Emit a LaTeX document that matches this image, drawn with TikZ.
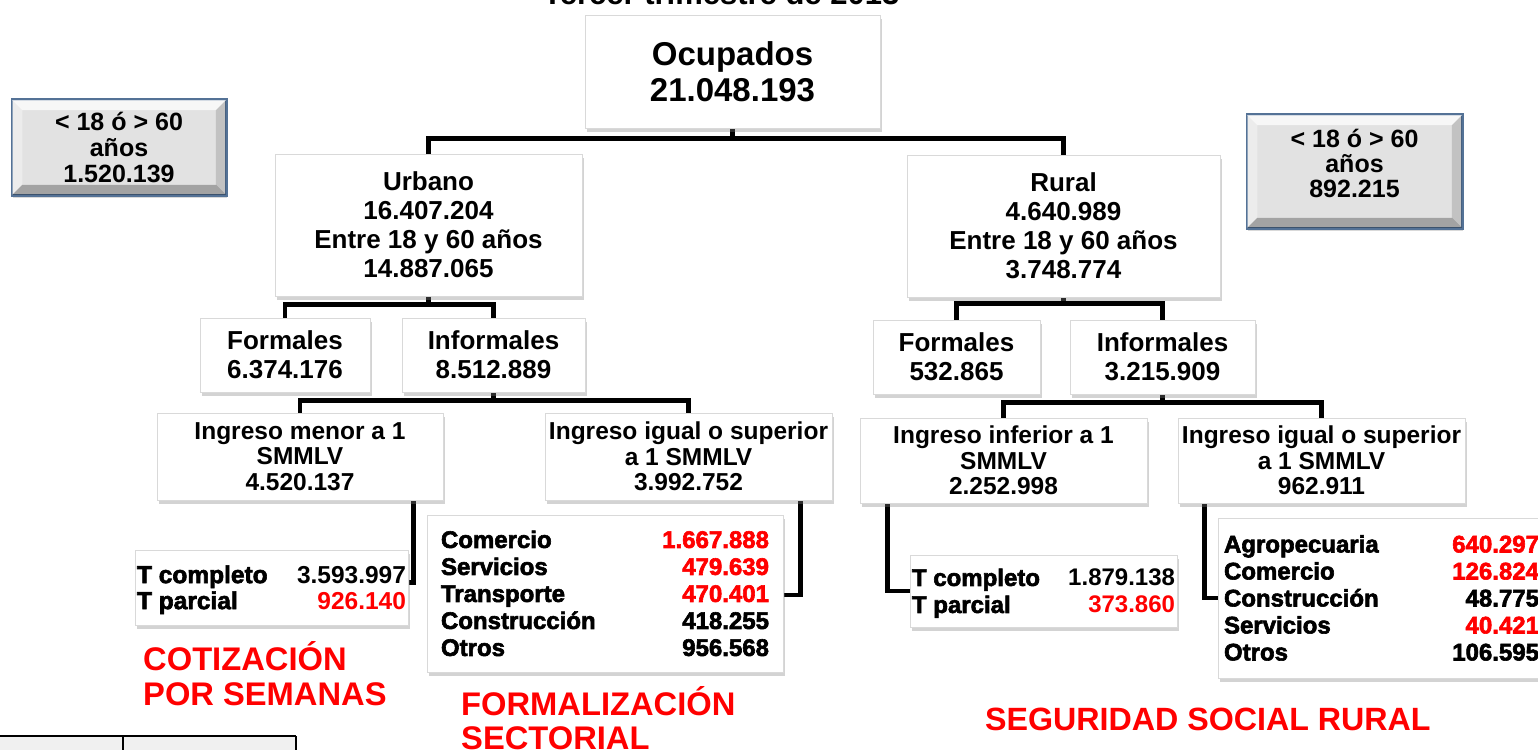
\documentclass[tikz,border=0pt]{standalone}
\usepackage{fontspec}
\setmainfont{Liberation Sans}
\newfontfamily\heavyfont[FakeBold=2.5]{Liberation Sans Bold}
\usetikzlibrary{shadows,calc}
\pgfdeclarelayer{bg}
\pgfsetlayers{bg,main}
\definecolor{rd}{RGB}{255,0,0}
\definecolor{gboxfill}{RGB}{226,226,226}
\definecolor{gborder}{RGB}{84,114,150}
\newcommand{\fsz}[2]{\fontsize{#1}{#2}\selectfont}
\newcommand{\toprule}{\rule{0pt}{25pt}}
\begin{document}
\begin{tikzpicture}[x=1pt,y=-1pt,
  wbox/.style={draw=gray!30, line width=0.6pt, fill=white,
    drop shadow={opacity=0.35, shadow xshift=1.5pt, shadow yshift=-4pt, fill=gray},
    inner sep=0pt, align=center},
  gboxstyle/.style={draw=gborder, line width=1.5pt, fill=gboxfill,
    drop shadow={opacity=0.3, shadow xshift=1pt, shadow yshift=-3pt, fill=gray},
    inner sep=0pt},
  gtext/.style={align=center, inner sep=0pt, font=\bfseries\fsz{25}{26}},
  conn/.style={line width=4.5pt, black},
  redlab/.style={text=rd, font=\bfseries\fsz{32.7}{35}, anchor=base west, inner sep=0pt},
  lvone/.style={font=\bfseries\fsz{33}{36}},
  lvtwo/.style={font=\bfseries\fsz{26}{29}},
  lving/.style={font=\bfseries\fsz{24.5}{25.5}},
  tabfont/.style={font=\bfseries\fsz{24}{27}}
]
\useasboundingbox (0,0) rectangle (1538,749);
\clip (0,0) rectangle (1538,749);

% title (cut off at the top)
\node[font=\bfseries\fsz{31}{34}, anchor=base west, inner sep=0pt] (title) at (543,5) {Tercer trimestre de 2013};

% main tree
\node[wbox, lvone, minimum width=295pt, minimum height=113pt] (ocup) at (732.5,71.5) {Ocupados\\21.048.193};
\node[wbox, lvtwo, minimum width=307pt, minimum height=142pt] (urb) at (428.5,225) {Urbano\\16.407.204\\Entre 18 y 60 años\\14.887.065};
\node[wbox, lvtwo, minimum width=313pt, minimum height=142pt] (rur) at (1063.5,226) {Rural\\4.640.989\\Entre 18 y 60 años\\3.748.774};

\node[wbox, lvtwo, minimum width=170pt, minimum height=74pt] (fu) at (285,355) {Formales\\6.374.176};
\node[wbox, lvtwo, minimum width=183pt, minimum height=74pt] (iu) at (493.5,355) {Informales\\8.512.889};
\node[wbox, lvtwo, minimum width=167pt, minimum height=74pt] (fr) at (956.5,357) {Formales\\532.865};
\node[wbox, lvtwo, minimum width=185pt, minimum height=74pt] (ir) at (1162.5,357) {Informales\\3.215.909};

\node[wbox, lving, minimum width=286pt, minimum height=87pt] (mu) at (300,456.5) {Ingreso menor a 1\\SMMLV\\4.520.137};
\node[wbox, lving, minimum width=287pt, minimum height=87pt] (su) at (688.5,456.5) {Ingreso igual o superior\\a 1 SMMLV\\3.992.752};
\node[wbox, lving, minimum width=287pt, minimum height=85pt] (infr) at (1003.5,460.5) {Ingreso inferior a 1\\SMMLV\\2.252.998};
\node[wbox, lving, minimum width=287pt, minimum height=85pt] (supr) at (1321.5,460.5) {Ingreso igual o superior\\a 1 SMMLV\\962.911};

\node[wbox, tabfont, minimum width=273pt, minimum height=75pt] (tu) at (271.5,587.5)
  {\fsz{24.5}{26}\begin{tabular*}{269pt}{@{}l@{\extracolsep{\fill}}r@{}}\toprule{\heavyfont T completo} & 3.593.997\\ {\heavyfont T parcial} & \textcolor{rd}{926.140}\end{tabular*}};
\node[wbox, tabfont, minimum width=356pt, minimum height=157pt] (secu) at (605,593.5)
  {\heavyfont\begin{tabular*}{328pt}{@{}l@{\extracolsep{\fill}}r@{}}\toprule Comercio & \textcolor{rd}{1.667.888}\\ Servicios & \textcolor{rd}{479.639}\\ Transporte & \textcolor{rd}{470.401}\\ Construcción & 418.255\\ Otros & 956.568\end{tabular*}};
\node[wbox, tabfont, minimum width=267pt, minimum height=72pt] (tr) at (1043.5,591)
  {\begin{tabular*}{263pt}{@{}l@{\extracolsep{\fill}}r@{}}\toprule{\heavyfont T completo} & 1.879.138\\ {\heavyfont T parcial} & \textcolor{rd}{373.860}\end{tabular*}};
\node[wbox, tabfont, minimum width=327pt, minimum height=160pt] (secr) at (1381.5,598)
  {\heavyfont\begin{tabular*}{315pt}{@{}l@{\extracolsep{\fill}}r@{}}\toprule Agropecuaria & \textcolor{rd}{640.297}\\ Comercio & \textcolor{rd}{126.824}\\ Construcción & 48.775\\ Servicios & \textcolor{rd}{40.421}\\ Otros & 106.595\end{tabular*}};

% grey side boxes
\node[gboxstyle, minimum width=214pt, minimum height=95pt] (gl) at (119,147.5) {};
\node[gboxstyle, minimum width=215pt, minimum height=113pt] (gr) at (1354.5,171.5) {};
\foreach \n in {gl,gr}{
  \fill[white,opacity=.75] (\n.north west) -- (\n.north east) -- ([shift={(-11pt,-11pt)}]\n.north east) -- ([shift={(11pt,-11pt)}]\n.north west) -- cycle;
  \fill[white,opacity=.35] (\n.north west) -- (\n.south west) -- ([shift={(11pt,11pt)}]\n.south west) -- ([shift={(11pt,-11pt)}]\n.north west) -- cycle;
  \fill[black,opacity=.28] (\n.south west) -- (\n.south east) -- ([shift={(-11pt,11pt)}]\n.south east) -- ([shift={(11pt,11pt)}]\n.south west) -- cycle;
  \fill[black,opacity=.14] (\n.north east) -- (\n.south east) -- ([shift={(-11pt,11pt)}]\n.south east) -- ([shift={(-11pt,-11pt)}]\n.north east) -- cycle;
  \draw[gborder, line width=1.5pt] (\n.north west) rectangle (\n.south east);
}
\node[gtext] (glt) at (gl.center) {< 18 ó > 60\\años\\1.520.139};
\node[gtext, font=\bfseries\fsz{25}{25}] (grt) at ([yshift=8pt]gr.center) {< 18 ó > 60\\años\\892.215};

% connectors
\begin{pgfonlayer}{bg}
\draw[conn] (ocup.south) -- ++(0,10) -| (urb.north);
\draw[conn] (ocup.south) -- ++(0,10) -| (rur.north);
\draw[conn] (urb.south) -- ++(0,8) -| (fu.north);
\draw[conn] (urb.south) -- ++(0,8) -| (iu.north);
\draw[conn] (iu.south) -- ++(0,8) -| (mu.north);
\draw[conn] (iu.south) -- ++(0,8) -| (su.north);
\draw[conn] (rur.south) -- ++(0,6) -| (fr.north);
\draw[conn] (rur.south) -- ++(0,6) -| (ir.north);
\draw[conn] (ir.south) -- ++(0,8) -| (infr.north);
\draw[conn] (ir.south) -- ++(0,8) -| (supr.north);
\draw[conn] ([xshift=-30pt]mu.south east) |- ([yshift=5pt]tu.east);
\draw[conn] ([xshift=-32pt]su.south east) |- ([yshift=-1.5pt]secu.east);
\draw[conn] ([xshift=28pt]infr.south west) |- (tr.west);
\draw[conn] ([xshift=27pt]supr.south west) |- (secr.west);
\end{pgfonlayer}

% red captions
\node[redlab] (cot1) at (143,670) {COTIZACIÓN};
\node[redlab] (cot2) at (143,705) {POR SEMANAS};
\node[redlab] (for1) at (461,715) {FORMALIZACIÓN};
\node[redlab] (for2) at (461,749) {SECTORIAL};
\node[redlab, font=\bfseries\fsz{32.2}{35}] (seg) at (985,730) {SEGURIDAD SOCIAL RURAL};

% table fragment at the bottom left
\fill[gray!12] (0,736) rectangle (296,752);
\draw[line width=1.5pt] (-2,736) -- (296,736);
\draw[line width=1.5pt] (123,736) -- (123,752);
\draw[line width=1.5pt] (296,736) -- (296,752);
\end{tikzpicture}
\end{document}
